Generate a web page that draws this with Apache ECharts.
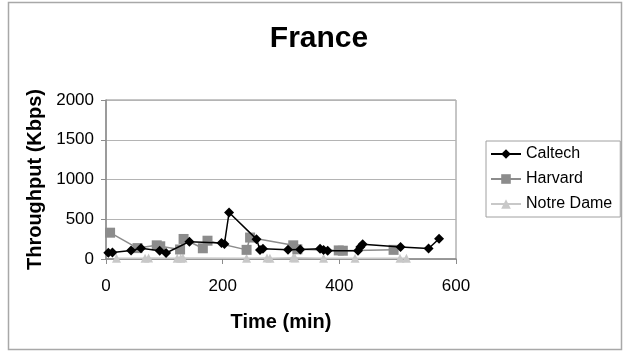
<!DOCTYPE html>
<html>
<head>
<meta charset="utf-8">
<style>
  html, body { margin: 0; padding: 0; background: #fff; }
  #chart { width: 624px; height: 352px; }
</style>
<script src="https://cdn.jsdelivr.net/npm/echarts@6/dist/echarts.min.js"></script>
</head>
<body>
<div id="chart"></div>
<script>
// Throughput samples: [time (min), throughput (Kbps)]
const caltech = [
  [4, 78], [11, 82], [43, 108], [60, 135], [92, 104], [103, 76], [143, 218],
  [198, 200], [203, 190], [211, 585], [258, 250], [264, 112], [269, 128],
  [312, 115], [333, 120], [367, 128], [373, 112], [380, 104], [432, 104],
  [436, 150], [440, 185], [505, 150], [553, 132], [571, 254]
];
const harvard = [
  [7, 331], [54, 137], [87, 172], [93, 160], [127, 120], [133, 252],
  [166, 135], [174, 230], [241, 115], [247, 270], [321, 172], [328, 122],
  [399, 108], [406, 104], [493, 115]
];
const notreDame = [
  [18, 8], [67, 10], [73, 12], [122, 8], [128, 10], [132, 12], [241, 10],
  [276, 12], [281, 10], [321, 15], [324, 12], [373, 10], [427, 8],
  [504, 10], [515, 8]
];
const seriesNames = ['Caltech', 'Harvard', 'Notre Dame'];
const xTicks = { min: 0, max: 600, interval: 200 };
const yTicks = { min: 0, max: 2000, interval: 500 };

const font = 'Arial, "Liberation Sans", sans-serif';
const chart = echarts.init(document.getElementById('chart'), null, { renderer: 'canvas' });

chart.setOption({
  animation: false,
  backgroundColor: '#ffffff',
  textStyle: { fontFamily: font },
  title: {
    text: 'France',
    left: 314, top: 19, textAlign: 'center',
    textStyle: { fontSize: 30, fontWeight: 'bold', color: '#000', fontFamily: font }
  },
  graphic: [{
    type: 'rect',
    shape: { x: 8.5, y: 2.5, width: 613, height: 347 },
    style: { fill: null, stroke: '#a8a8a8', lineWidth: 1.5 },
    silent: true
  }],
  legend: {
    orient: 'vertical',
    left: 486, top: 141,
    padding: [5, 8, 5, 4],
    itemGap: 9,
    itemWidth: 30, itemHeight: 12,
    borderColor: '#a0a0a0', borderWidth: 1,
    textStyle: { fontSize: 16, color: '#000', fontFamily: font },
    data: seriesNames
  },
  grid: { left: 106, top: 100, right: 168, bottom: 93, show: true, borderColor: '#8c8c8c', borderWidth: 1 },
  xAxis: {
    type: 'value',
    min: xTicks.min, max: xTicks.max, interval: xTicks.interval,
    name: 'Time (min)', nameLocation: 'middle', nameGap: 53,
    nameTextStyle: { fontSize: 20, fontWeight: 'bold', color: '#000', fontFamily: font },
    axisLine: { show: true, lineStyle: { color: '#8c8c8c', width: 1.5 } },
    axisTick: { show: true, length: 5, lineStyle: { color: '#8c8c8c' } },
    axisLabel: { fontSize: 17, color: '#000', margin: 19, fontFamily: font, formatter: v => String(v) },
    splitLine: { show: false }
  },
  yAxis: {
    type: 'value',
    min: yTicks.min, max: yTicks.max, interval: yTicks.interval,
    name: 'Throughput (Kbps)', nameLocation: 'middle', nameGap: 60, nameRotate: 90,
    nameTextStyle: { fontSize: 20, fontWeight: 'bold', color: '#000', fontFamily: font },
    axisLine: { show: true, lineStyle: { color: '#8c8c8c', width: 1.5 } },
    axisTick: { show: true, length: 5, lineStyle: { color: '#8c8c8c' } },
    axisLabel: { fontSize: 17, color: '#000', margin: 12, fontFamily: font, formatter: v => String(v) },
    splitLine: { show: true, lineStyle: { color: '#b4b4b4', width: 1 } }
  },
  series: [
    {
      name: seriesNames[0], type: 'line', data: caltech,
      symbol: 'diamond', symbolSize: 10,
      lineStyle: { color: '#000', width: 1.5 },
      itemStyle: { color: '#000' }, z: 5
    },
    {
      name: seriesNames[1], type: 'line', data: harvard,
      symbol: 'rect', symbolSize: 10,
      lineStyle: { color: '#8c8c8c', width: 1.5 },
      itemStyle: { color: '#8c8c8c' }, z: 4
    },
    {
      name: seriesNames[2], type: 'line', data: notreDame,
      symbol: 'triangle', symbolSize: 9,
      lineStyle: { color: '#c8c8c8', width: 1.5 },
      itemStyle: { color: '#c8c8c8' }, z: 3
    }
  ]
});
</script>
</body>
</html>
